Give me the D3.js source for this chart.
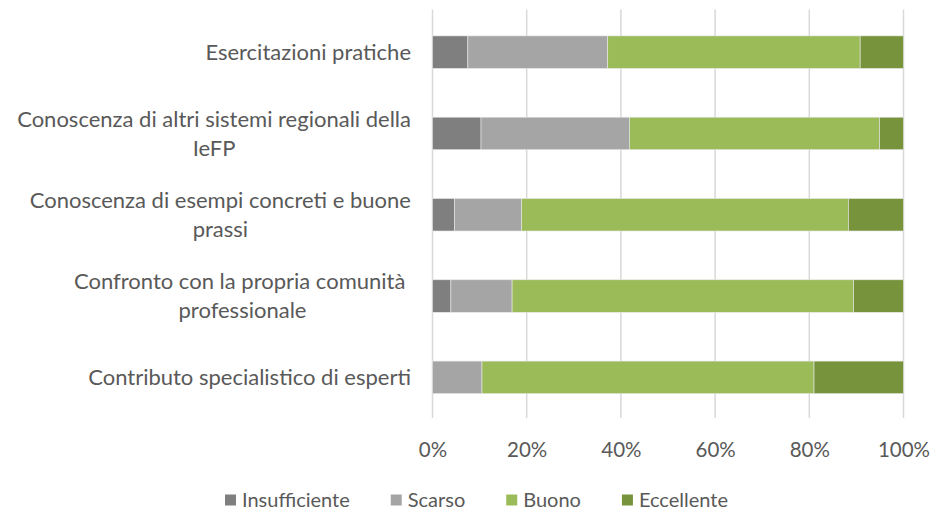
<!DOCTYPE html>
<html><head><meta charset="utf-8">
<script src="https://cdn.jsdelivr.net/npm/d3@7"></script>
<style>body{margin:0;background:#fff}svg{display:block}text{font-family:Lato,"Open Sans",sans-serif;fill:#595959}</style>
</head><body>
<svg id="c" width="934" height="511"></svg>
<script>
const categories = [
  ["Esercitazioni pratiche"],
  ["Conoscenza di altri sistemi regionali della","IeFP"],
  ["Conoscenza di esempi concreti e buone","prassi"],
  ["Confronto con la propria comunità ","professionale"],
  ["Contributo specialistico di esperti"]
];
const seriesNames = ["Insufficiente","Scarso","Buono","Eccellente"];
const insufficiente = [7.5, 10.3, 4.7, 3.9, 0];
const scarso        = [29.7, 31.5, 14.2, 13.0, 10.5];
const buono         = [53.6, 53.1, 69.4, 72.5, 70.5];
const eccellente    = [9.2, 5.1, 11.7, 10.6, 19.0];
const colors = ["#7f7f7f","#a5a5a5","#9bbb59","#77933c"];
const xTicks = [0,20,40,60,80,100];

const svg = d3.select("#c");
const m = {left:432.5, right:903.5, top:11.5, bottom:418};
const x = d3.scaleLinear().domain([0,100]).range([m.left, m.right]);
const y = d3.scaleBand().domain(d3.range(categories.length)).range([m.top, m.bottom]).paddingInner(0.6).paddingOuter(0.3);

const seriesData = [insufficiente, scarso, buono, eccellente];
const rows = categories.map((c,i)=>{const o={i}; seriesNames.forEach((s,k)=>o[s]=seriesData[k][i]); return o;});
const stack = d3.stack().keys(seriesNames)(rows);

// grid
svg.append("g").selectAll("line").data(xTicks).join("line")
  .attr("x1",d=>x(d)).attr("x2",d=>x(d)).attr("y1",m.top-2).attr("y2",m.bottom)
  .attr("stroke","#d9d9d9").attr("stroke-width",1.5);

// bars
svg.append("g").selectAll("g").data(stack).join("g")
  .attr("fill",(d,k)=>colors[k])
  .selectAll("rect").data(d=>d).join("rect")
  .attr("x",d=>x(d[0])).attr("width",d=>x(d[1])-x(d[0]))
  .attr("y",(d,i)=>y(i)).attr("height",y.bandwidth())
  .attr("stroke","#e8e8e8").attr("stroke-width",0.6);

// x axis labels
const xa = d3.axisBottom(x).tickValues(xTicks).tickFormat(d=>d+"%").tickSize(0).tickPadding(0);
const gx = svg.append("g").attr("transform",`translate(0,${m.bottom+39})`).call(xa);
gx.select(".domain").remove();
gx.selectAll("text").attr("font-size","20.5px").attr("dy","0").style("fill","#595959").attr("font-family","Lato");

// y labels
const lh = 29;
categories.forEach((lines,i)=>{
  const cy = y(i)+y.bandwidth()/2;
  const g = svg.append("g");
  const ts = lines.map((ln,j)=>g.append("text").attr("font-size","22px").style("white-space","pre")
     .attr("y", cy + (j-(lines.length-1)/2)*lh).attr("dy","0.35em").text(ln));
  const w = d3.max(ts, t=>t.node().getComputedTextLength());
  const cx = 411 - w/2;
  ts.forEach(t=>t.attr("x",cx).attr("text-anchor","middle"));
});

// legend
const lg = svg.append("g").attr("transform","translate(0,500)");
const legStart = 225, legEnd = 728;
const items = seriesNames.map((s,k)=>{
  const r = lg.append("rect").attr("y",-5.5).attr("width",11).attr("height",11).attr("fill",colors[k]);
  const t = lg.append("text").attr("y",0).attr("dy","0.33em").attr("font-size","20px").text(s);
  return {r, t, w: t.node().getComputedTextLength()};
});
const totalW = d3.sum(items, d=>d.w + 17);
const gap = (legEnd - legStart - totalW) / (items.length - 1);
let lx = legStart;
items.forEach(it=>{
  it.r.attr("x", lx);
  it.t.attr("x", lx + 17);
  lx += 17 + it.w + gap;
});
</script>
</body></html>
